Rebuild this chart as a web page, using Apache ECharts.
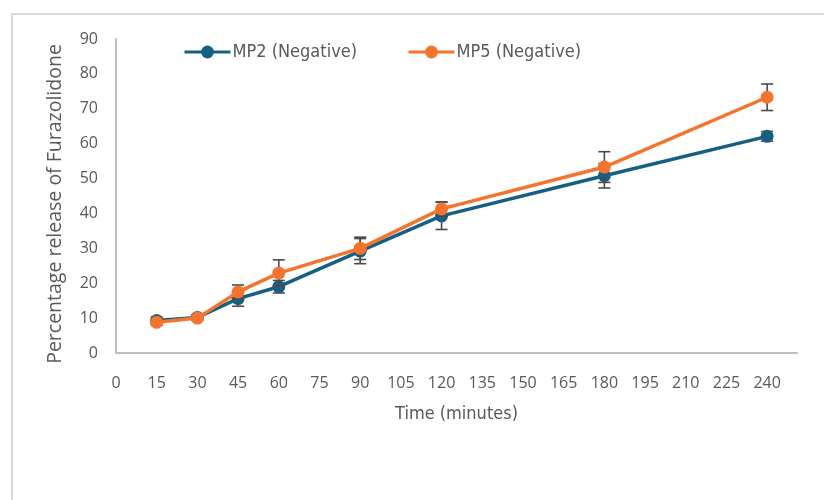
<!DOCTYPE html>
<html>
<head>
<meta charset="utf-8">
<script src="https://cdn.jsdelivr.net/npm/echarts@6/dist/echarts.min.js"></script>
<style>html,body{margin:0;padding:0;background:#fff}#c{width:824px;height:500px}</style>
</head>
<body>
<div id="c"></div>
<script>
var times = [15, 30, 45, 60, 90, 120, 180, 240];
var mp2 = [9.3, 10.2, 15.6, 19.0, 29.2, 39.3, 50.8, 62.1];
var mp2Err = [1.0, 0.8, 2.2, 1.8, 3.6, 3.9, 3.5, 1.4];
var mp5 = [8.8, 10.0, 17.5, 22.9, 30.0, 41.3, 53.3, 73.3];
var mp5Err = [0.8, 0.6, 2.0, 3.8, 3.2, 2.0, 4.4, 3.8];
var seriesNames = ['MP2 (Negative)', 'MP5 (Negative)'];
var colors = ['#156082', '#F4742B'];

function pairs(v){ return times.map(function(t,i){ return [t, v[i]]; }); }
function errData(v, e){ return times.map(function(t,i){ return [t, v[i]-e[i], v[i]+e[i]]; }); }

function errRender(params, api){
  var x = api.value(0);
  var lo = api.coord([x, api.value(1)]);
  var hi = api.coord([x, api.value(2)]);
  var w = 6;
  var st = {stroke:'#4a4a4a', lineWidth:1.6};
  return {type:'group', children:[
    {type:'line', shape:{x1:lo[0], y1:lo[1], x2:hi[0], y2:hi[1]}, style:st},
    {type:'line', shape:{x1:lo[0]-w, y1:lo[1], x2:lo[0]+w, y2:lo[1]}, style:st},
    {type:'line', shape:{x1:hi[0]-w, y1:hi[1], x2:hi[0]+w, y2:hi[1]}, style:st}
  ]};
}

var narrow = 'DejaVu Sans Condensed, Liberation Sans Narrow, Liberation Sans';
var chart = echarts.init(document.getElementById('c'), null, {renderer:'canvas'});
chart.setOption({
  animation:false,
  backgroundColor:'#ffffff',
  graphic:[{type:'rect', shape:{x:12, y:14, width:900, height:700}, style:{fill:'none', stroke:'#d9d9d9', lineWidth:2}, silent:true}],
  legend:{
    left:178, top:38, itemWidth:46, itemHeight:16, itemGap:50,
    lineStyle:{width:3},
    textStyle:{fontFamily:narrow, fontSize:18, color:'#595959', padding:[0,0,0,-3]},
    data:seriesNames
  },
  grid:{left:116, right:27, top:39, bottom:147},
  xAxis:{
    type:'value', min:0, max:251, interval:15,
    name:'Time (minutes)', nameLocation:'middle', nameGap:52,
    nameTextStyle:{fontFamily:narrow, fontSize:18, color:'#595959'},
    axisLine:{show:true, lineStyle:{color:'#bfbfbf', width:2}},
    axisTick:{show:false}, splitLine:{show:false},
    axisLabel:{margin:22, fontFamily:'Open Sans', fontSize:16, color:'#595959',
      formatter:function(v){ return (v % 15 === 0 && v <= 240) ? String(v) : ''; }}
  },
  yAxis:{
    type:'value', min:0, max:90, interval:10,
    name:'Percentage release of Furazolidone', nameLocation:'middle', nameGap:51,
    nameTextStyle:{fontFamily:'Open Sans', fontSize:19.5, color:'#595959', padding:[0,16,0,0]},
    axisLine:{show:true, lineStyle:{color:'#bfbfbf', width:2}},
    axisTick:{show:false}, splitLine:{show:false},
    axisLabel:{margin:18, fontFamily:'Open Sans', fontSize:16, color:'#595959'}
  },
  series:[
    {type:'custom', renderItem:errRender, data:errData(mp2, mp2Err), encode:{x:0, y:[1,2]}, z:1, silent:true},
    {name:seriesNames[0], type:'line', data:pairs(mp2), symbol:'circle', symbolSize:13,
     itemStyle:{color:colors[0]}, lineStyle:{color:colors[0], width:3.5}, z:2},
    {type:'custom', renderItem:errRender, data:errData(mp5, mp5Err), encode:{x:0, y:[1,2]}, z:3, silent:true},
    {name:seriesNames[1], type:'line', data:pairs(mp5), symbol:'circle', symbolSize:13,
     itemStyle:{color:colors[1]}, lineStyle:{color:colors[1], width:3.5}, z:4}
  ]
});
</script>
</body>
</html>
